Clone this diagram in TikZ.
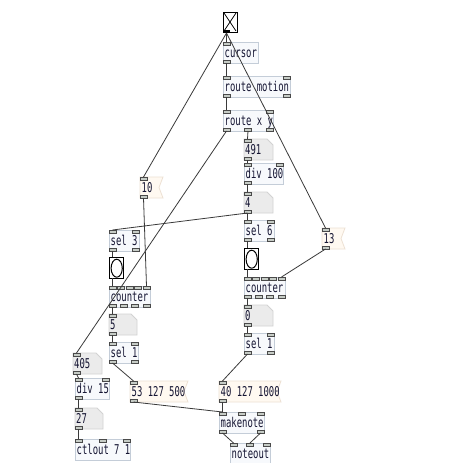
\documentclass[tikz,border=0pt]{standalone}
\usepackage{fontspec}
\newfontfamily\pdfont{DejaVu Sans Mono}[FakeStretch=0.66]
\definecolor{objborder}{HTML}{C4CDD8}
\definecolor{objfill}{HTML}{F7F9FC}
\definecolor{numfill}{HTML}{EBEBEB}
\definecolor{numborder}{HTML}{D2D2D2}
\definecolor{msgfill}{HTML}{FFF9F1}
\definecolor{msgborder}{HTML}{EDE1D4}
\definecolor{letdraw}{HTML}{4A4A4A}
\definecolor{letfill}{HTML}{C6CCC6}
\definecolor{wire}{HTML}{3A3A3A}
\definecolor{txt}{HTML}{141432}
\tikzset{
  pdtext/.style={font=\pdfont\fontsize{13.5}{13.5}\selectfont, text=txt, inner sep=0pt},
  iolet/.style={draw=letdraw, fill=letfill, line width=0.6pt},
  conn/.style={draw=wire, line width=0.8pt},
  objshape/.style={draw=objborder, fill=objfill, line width=0.8pt},
  numshape/.style={draw=numborder, fill=numfill, line width=0.8pt},
  msgshape/.style={draw=msgborder, fill=msgfill, line width=0.8pt},
  guibox/.style={draw=black, fill=white, line width=1.4pt, inner sep=0pt, anchor=north west},
}
% #1 name #2 x #3 y #4 w #5 h #6 nin #7 nout
\newcommand\PdLets[7]{%
  \ifnum#6>0
    \pgfmathsetmacro\pdsp{(#4-7)/max(#6-1,1)}%
    \foreach \k in {1,...,#6}{%
      \pgfmathsetmacro\pdix{#2+(\k-1)*\pdsp}%
      \draw[iolet] (\pdix,#3) rectangle ++(7,3);
      \coordinate (#1-i\k) at (\pdix+3.5,#3);
    }%
  \fi
  \ifnum#7>0
    \pgfmathsetmacro\pdsq{(#4-7)/max(#7-1,1)}%
    \foreach \k in {1,...,#7}{%
      \pgfmathsetmacro\pdox{#2+(\k-1)*\pdsq}%
      \draw[iolet] (\pdox,#3+#5-3) rectangle ++(7,3);
      \coordinate (#1-o\k) at (\pdox+3.5,#3+#5);
    }%
  \fi
}
% #1 name #2 x #3 y #4 w #5 text #6 nin #7 nout
\newcommand\PdObj[7]{%
  \path[objshape] (#2,#3) rectangle ++(#4,21);
  \node[pdtext, anchor=base west] (#1) at (#2+1.5,#3+15.5) {#5};
  \PdLets{#1}{#2}{#3}{#4}{21}{#6}{#7}%
}
% #1 name #2 x #3 y #4 w #5 text
\newcommand\PdMsg[5]{%
  \path[msgshape] (#2,#3) -- ++(#4,0) -- ++(-4,10.5) -- ++(4,10.5) -- ++(-#4,0) -- cycle;
  \node[pdtext, anchor=base west] (#1) at (#2+1.5,#3+15.5) {#5};
  \PdLets{#1}{#2}{#3}{#4}{21}{1}{1}%
}
\newcommand\PdNum[5]{%
  \path[numshape] (#2,#3) -- ++(#4-6,0) -- ++(6,6) -- ++(0,15) -- ++(-#4,0) -- cycle;
  \node[pdtext, anchor=base west] (#1) at (#2+1,#3+15.5) {#5};
  \PdLets{#1}{#2}{#3}{#4}{21}{1}{1}%
}
% #1 name #2 x #3 y
\newcommand\PdBang[3]{%
  \node[guibox, minimum width=14pt, minimum height=21pt] (#1) at (#2,#3) {};
  \draw[black, line width=1pt] (#1.center) ellipse [x radius=5.6pt, y radius=9pt];
  \coordinate (#1-i1) at (#2+3.5,#3);
  \coordinate (#1-o1) at (#2+3.5,#3+21);
}
\begin{document}
\begin{tikzpicture}[x=1pt,y=-1pt]
\useasboundingbox (0,0) rectangle (452,463);
\fill[white] (0,0) rectangle (452,463);

% toggle
\node[guibox, minimum width=14pt, minimum height=20pt] (toggle) at (223,12) {};
\draw[black, line width=0.7pt] (224,13) -- (236,31) (236,13) -- (224,31);
\fill[black] (223,30) rectangle (230,33);
\coordinate (toggle-o1) at (226.5,33);

% right column
\PdObj{cursor}{223}{42}{35}{cursor}{1}{1}
\PdObj{routemotion}{223}{76}{67}{route motion}{2}{2}
\PdObj{routexy}{223}{110}{50}{route x y}{2}{3}
\PdNum{n491}{244}{139}{29}{491}
\PdObj{div100}{244}{163}{39}{div 100}{2}{1}
\PdNum{nfour}{244}{192}{29}{4}
\PdObj{selsix}{244}{220}{30}{sel 6}{2}{2}
\PdBang{bangR}{244}{248}
\PdObj{counterR}{244}{277}{41}{counter}{5}{4}
\PdNum{nzero}{244}{305}{29}{0}
\PdObj{seloneR}{244}{333}{30}{sel 1}{2}{2}
\PdMsg{msgforty}{219}{381}{62}{40 127 1000}
\PdObj{makenote}{219}{412}{45}{makenote}{3}{2}
\PdObj{noteout}{230}{443}{40}{noteout}{3}{0}

% messages
\PdMsg{msgten}{140}{177}{23}{10}
\PdMsg{msgthirteen}{322}{228}{23}{13}

% left column
\PdObj{selthree}{109}{230}{30}{sel 3}{2}{2}
\PdBang{bangL}{109}{257}
\PdObj{counterL}{109}{286}{41}{counter}{5}{4}
\PdNum{nfive}{109}{314}{28}{5}
\PdObj{seloneL}{109}{342}{29}{sel 1}{2}{2}
\PdMsg{msgfiftythree}{130}{381}{58}{53 127 500}
\PdNum{n405}{73}{353}{29}{405}
\PdObj{divfifteen}{75}{378}{34}{div 15}{2}{1}
\PdNum{ntwentyseven}{75}{408}{28}{27}
\PdObj{ctlout}{75}{439}{55}{ctlout 7 1}{3}{0}

% connections
\draw[conn] (toggle-o1) -- (cursor-i1);
\draw[conn] (toggle-o1) -- (msgten-i1);
\draw[conn] (toggle-o1) -- (msgthirteen-i1);
\draw[conn] (cursor-o1) -- (routemotion-i1);
\draw[conn] (routemotion-o1) -- (routexy-i1);
\draw[conn] (routexy-o1) -- (n405-i1);
\draw[conn] (routexy-o2) -- (n491-i1);
\draw[conn] (n491-o1) -- (div100-i1);
\draw[conn] (div100-o1) -- (nfour-i1);
\draw[conn] (nfour-o1) -- (selsix-i1);
\draw[conn] (nfour-o1) -- (selthree-i1);
\draw[conn] (selsix-o1) -- (bangR-i1);
\draw[conn] (bangR-o1) -- (counterR-i1);
\draw[conn] (msgthirteen-o1) -- (counterR-i5);
\draw[conn] (counterR-o1) -- (nzero-i1);
\draw[conn] (nzero-o1) -- (seloneR-i1);
\draw[conn] (seloneR-o1) -- (msgforty-i1);
\draw[conn] (msgforty-o1) -- (makenote-i1);
\draw[conn] (makenote-o1) -- (noteout-i1);
\draw[conn] (makenote-o2) -- (noteout-i2);
\draw[conn] (msgten-o1) -- (counterL-i5);
\draw[conn] (selthree-o1) -- (bangL-i1);
\draw[conn] (bangL-o1) -- (counterL-i1);
\draw[conn] (counterL-o1) -- (nfive-i1);
\draw[conn] (nfive-o1) -- (seloneL-i1);
\draw[conn] (seloneL-o1) -- (msgfiftythree-i1);
\draw[conn] (msgfiftythree-o1) -- (makenote-i1);
\draw[conn] (n405-o1) -- (divfifteen-i1);
\draw[conn] (divfifteen-o1) -- (ntwentyseven-i1);
\draw[conn] (ntwentyseven-o1) -- (ctlout-i1);
\end{tikzpicture}
\end{document}
